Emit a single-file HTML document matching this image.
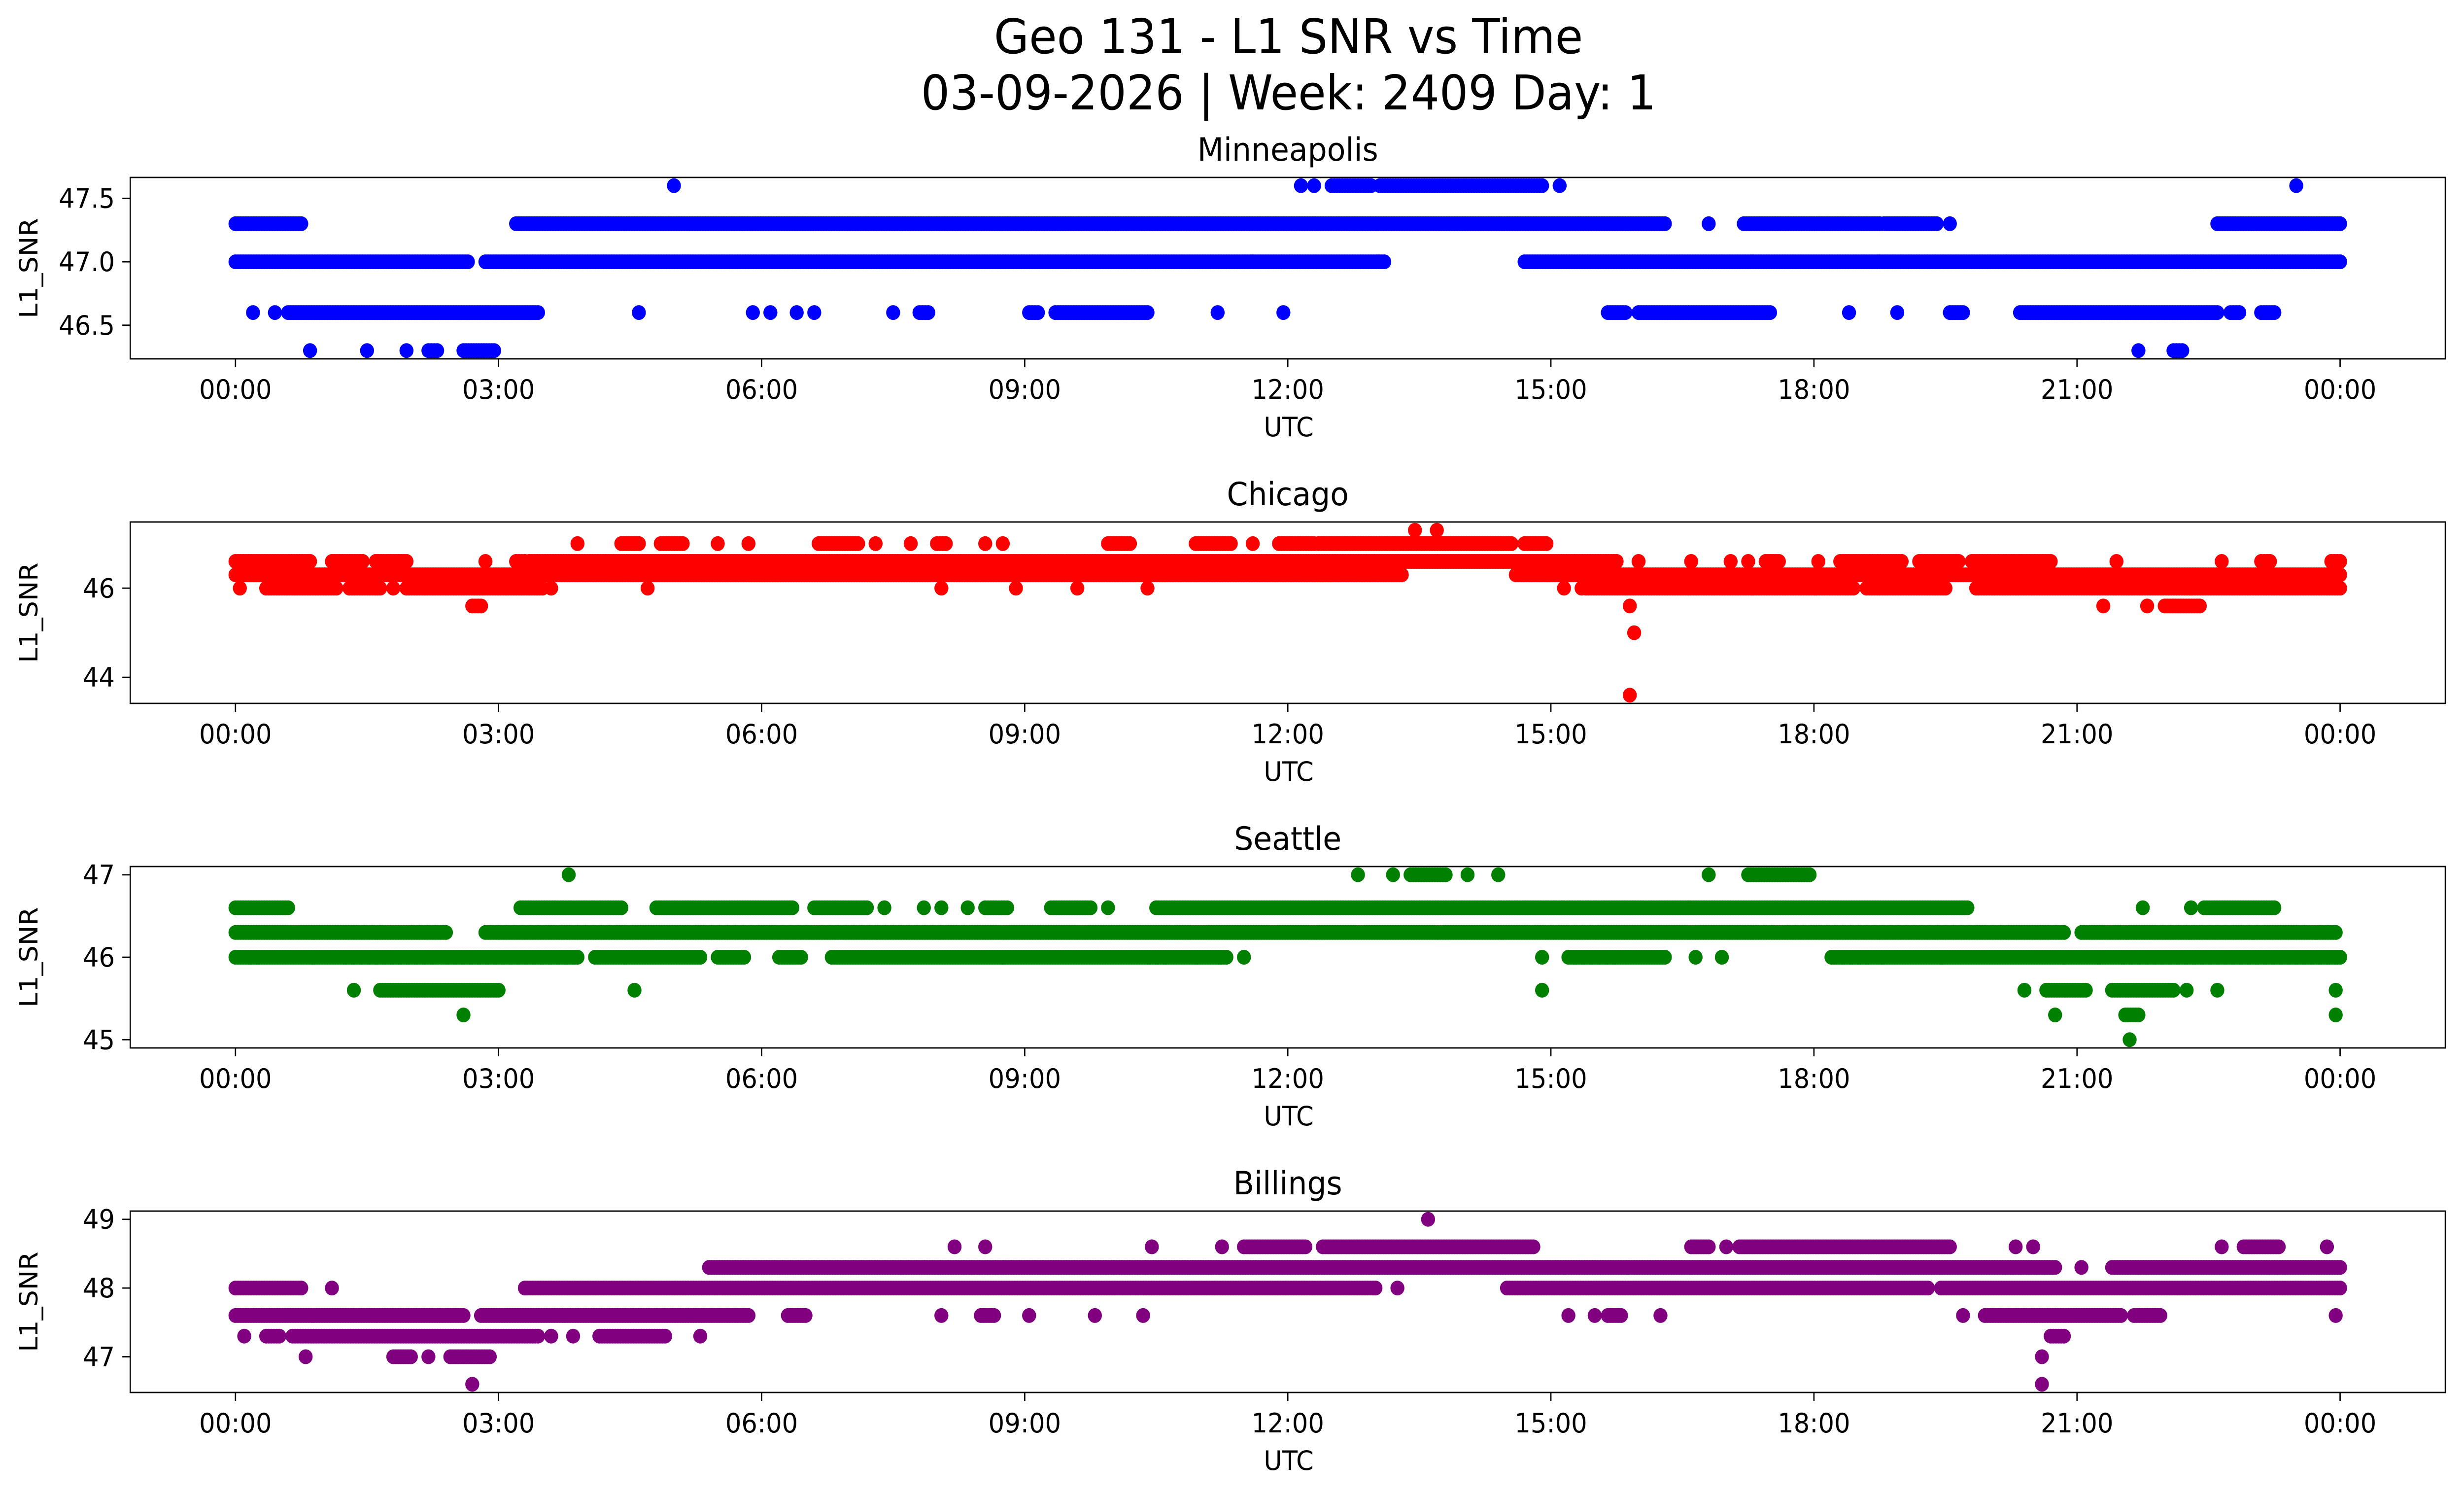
<!DOCTYPE html>
<html><head><meta charset="utf-8"><title>Geo 131 - L1 SNR vs Time</title>
<style>
html,body{margin:0;padding:0;background:#fff;width:100%;height:100%;overflow:hidden;}
svg{display:block;width:100vw;height:100vh;font-family:"DejaVu Sans","Liberation Sans",sans-serif;}
</style></head>
<body>
<svg id="fig" xmlns="http://www.w3.org/2000/svg" viewBox="0 0 5278 3033" preserveAspectRatio="none">
<rect x="0" y="0" width="5278" height="3033" fill="#fff"/>
<text x="2760" y="108" font-size="97" text-anchor="middle">Geo 131 - L1 SNR vs Time</text>
<text x="2760" y="222" font-size="97" text-anchor="middle">03-09-2026 | Week: 2409 Day: 1</text>
<g id="plots"></g>
</svg>
<script>
const cities = ["Minneapolis","Chicago","Seattle","Billings"];
const xTickHours = [0,3,6,9,12,15,18,21,24];
const xTickLabels = ["00:00","03:00","06:00","09:00","12:00","15:00","18:00","21:00","00:00"];
const yTicksMinneapolis = [46.5,47.0,47.5];
const yTickLabelsMinneapolis = ["46.5","47.0","47.5"];
const yTicksChicago = [44,46];
const yTickLabelsChicago = ["44","46"];
const yTicksSeattle = [45,46,47];
const yTickLabelsSeattle = ["45","46","47"];
const yTicksBillings = [47,48,49];
const yTickLabelsBillings = ["47","48","49"];

// runs: [SNR level, start hour, end hour]
const runsMinneapolis = [
[47.6,5.0,5.0],[47.6,12.15,12.15],[47.6,12.3,12.3],[47.6,12.5,12.95],[47.6,13.05,14.9],[47.6,15.1,15.1],[47.6,23.5,23.5],
[47.3,0.0,0.75],[47.3,3.2,16.3],[47.3,16.8,16.8],[47.3,17.2,18.75],[47.3,18.8,19.4],[47.3,19.55,19.55],[47.3,22.6,24.0],
[47.0,0.0,2.65],[47.0,2.85,13.1],[47.0,14.7,24.0],
[46.6,0.2,0.2],[46.6,0.45,0.45],[46.6,0.6,3.45],[46.6,4.6,4.6],[46.6,5.9,5.9],[46.6,6.1,6.1],[46.6,6.4,6.4],[46.6,6.6,6.6],[46.6,7.5,7.5],[46.6,7.8,7.9],[46.6,9.05,9.15],[46.6,9.35,10.4],[46.6,11.2,11.2],[46.6,11.95,11.95],[46.6,15.65,15.85],[46.6,16.0,17.5],[46.6,18.4,18.4],[46.6,18.95,18.95],[46.6,19.55,19.7],[46.6,20.35,22.6],[46.6,22.75,22.85],[46.6,23.1,23.25],
[46.3,0.85,0.85],[46.3,1.5,1.5],[46.3,1.95,1.95],[46.3,2.2,2.3],[46.3,2.6,2.95],[46.3,21.7,21.7],[46.3,22.1,22.2]
];
const runsChicago = [
[47.3,13.45,13.45],[47.3,13.7,13.7],
[47.0,3.9,3.9],[47.0,4.4,4.6],[47.0,4.85,5.1],[47.0,5.5,5.5],[47.0,5.85,5.85],[47.0,6.65,7.1],[47.0,7.3,7.3],[47.0,7.7,7.7],[47.0,8.0,8.1],[47.0,8.55,8.55],[47.0,8.75,8.75],[47.0,9.95,10.2],[47.0,10.95,11.35],[47.0,11.6,11.6],[47.0,11.9,12.3],[47.0,12.35,14.55],[47.0,14.7,14.95],
[46.6,0.0,0.85],[46.6,1.1,1.45],[46.6,1.6,1.95],[46.6,2.85,2.85],[46.6,3.2,3.3],[46.6,3.35,15.75],[46.6,16.0,16.0],[46.6,16.6,16.6],[46.6,17.05,17.05],[46.6,17.25,17.25],[46.6,17.45,17.6],[46.6,18.05,18.05],[46.6,18.3,19.0],[46.6,19.2,19.65],[46.6,19.8,20.7],[46.6,21.45,21.45],[46.6,22.65,22.65],[46.6,23.1,23.2],[46.6,23.9,24.0],
[46.3,0.0,13.3],[46.3,14.6,24.0],
[46.0,0.05,0.05],[46.0,0.35,1.15],[46.0,1.3,1.65],[46.0,1.8,1.8],[46.0,1.95,3.5],[46.0,3.6,3.6],[46.0,4.7,4.7],[46.0,8.05,8.05],[46.0,8.9,8.9],[46.0,9.6,9.6],[46.0,10.4,10.4],[46.0,15.15,15.15],[46.0,15.35,15.35],[46.0,15.4,18.45],[46.0,18.6,19.5],[46.0,19.85,24.0],
[45.6,2.7,2.8],[45.6,15.9,15.9],[45.6,21.3,21.3],[45.6,21.8,21.8],[45.6,22.0,22.4],
[45.0,15.95,15.95],[43.6,15.9,15.9]
];
const runsSeattle = [
[47.0,3.8,3.8],[47.0,12.8,12.8],[47.0,13.2,13.2],[47.0,13.4,13.8],[47.0,14.05,14.05],[47.0,14.4,14.4],[47.0,16.8,16.8],[47.0,17.25,17.95],
[46.6,0.0,0.6],[46.6,3.25,4.4],[46.6,4.8,6.35],[46.6,6.6,7.2],[46.6,7.4,7.4],[46.6,7.85,7.85],[46.6,8.05,8.05],[46.6,8.35,8.35],[46.6,8.55,8.8],[46.6,9.3,9.75],[46.6,9.95,9.95],[46.6,10.5,19.75],[46.6,21.75,21.75],[46.6,22.3,22.3],[46.6,22.45,23.25],
[46.3,0.0,2.4],[46.3,2.85,20.85],[46.3,21.05,23.95],
[46.0,0.0,3.9],[46.0,4.1,5.3],[46.0,5.5,5.8],[46.0,6.2,6.45],[46.0,6.8,11.3],[46.0,11.5,11.5],[46.0,14.9,14.9],[46.0,15.2,16.3],[46.0,16.65,16.65],[46.0,16.95,16.95],[46.0,18.2,24.0],
[45.6,1.35,1.35],[45.6,1.65,3.0],[45.6,4.55,4.55],[45.6,14.9,14.9],[45.6,20.4,20.4],[45.6,20.65,21.1],[45.6,21.4,22.1],[45.6,22.25,22.25],[45.6,22.6,22.6],[45.6,23.95,23.95],
[45.3,2.6,2.6],[45.3,20.75,20.75],[45.3,21.55,21.7],[45.3,23.95,23.95],
[45.0,21.6,21.6]
];
const runsBillings = [
[49.0,13.6,13.6],
[48.6,8.2,8.2],[48.6,8.55,8.55],[48.6,10.45,10.45],[48.6,11.25,11.25],[48.6,11.5,12.2],[48.6,12.4,14.8],[48.6,16.6,16.8],[48.6,17.0,17.0],[48.6,17.15,19.55],[48.6,20.3,20.3],[48.6,20.5,20.5],[48.6,22.65,22.65],[48.6,22.9,23.3],[48.6,23.85,23.85],
[48.3,5.4,20.75],[48.3,21.05,21.05],[48.3,21.4,24.0],
[48.0,0.0,0.75],[48.0,1.1,1.1],[48.0,3.3,13.0],[48.0,13.25,13.25],[48.0,14.5,19.3],[48.0,19.45,24.0],
[47.6,0.0,2.6],[47.6,2.8,5.85],[47.6,6.3,6.5],[47.6,8.05,8.05],[47.6,8.5,8.65],[47.6,9.05,9.05],[47.6,9.8,9.8],[47.6,10.35,10.35],[47.6,15.2,15.2],[47.6,15.5,15.5],[47.6,15.65,15.8],[47.6,16.25,16.25],[47.6,19.7,19.7],[47.6,19.95,21.5],[47.6,21.65,21.95],[47.6,23.95,23.95],
[47.3,0.1,0.1],[47.3,0.35,0.5],[47.3,0.65,3.45],[47.3,3.6,3.6],[47.3,3.85,3.85],[47.3,4.15,4.9],[47.3,5.3,5.3],[47.3,20.7,20.85],
[47.0,0.8,0.8],[47.0,1.8,2.0],[47.0,2.2,2.2],[47.0,2.45,2.9],[47.0,20.6,20.6],
[46.6,2.7,2.7],[46.6,20.6,20.6]
];

const allRuns = [runsMinneapolis, runsChicago, runsSeattle, runsBillings];
const allYTicks = [yTicksMinneapolis, yTicksChicago, yTicksSeattle, yTicksBillings];
const allYTickLabels = [yTickLabelsMinneapolis, yTickLabelsChicago, yTickLabelsSeattle, yTickLabelsBillings];
const colors = ["#0000ff","#ff0000","#008000","#800080"];

const NS = "http://www.w3.org/2000/svg";
const L = 279, R = 5238, H = 368;
const tops = [360, 1059, 1758, 2457];
const xMin = -1.2, xMax = 25.2;
function xScale(t){ return L + (t - xMin) / (xMax - xMin) * (R - L); }
function mk(tag, attrs, parent){
  const e = document.createElementNS(NS, tag);
  for (const k in attrs) e.setAttribute(k, attrs[k]);
  parent.appendChild(e);
  return e;
}
const plots = document.getElementById("plots");

for (let p = 0; p < 4; p++) {
  const top = tops[p], bot = top + H;
  const runs = allRuns[p];
  let lo = Infinity, hi = -Infinity;
  runs.forEach(r => { lo = Math.min(lo, r[0]); hi = Math.max(hi, r[0]); });
  const m = (hi - lo) * 0.05; const yMin = lo - m, yMax = hi + m;
  const yScale = v => bot - (v - yMin) / (yMax - yMin) * H;

  const g = mk("g", {}, plots);
  
  

  const title = mk("text", {x: (L+R)/2, y: top - 34, "font-size": 65, "text-anchor": "middle"}, g);
  title.textContent = cities[p];
  
  

  const pts = mk("g", {fill: colors[p]}, g);
  
  
  runs.forEach(r => {
    const step = 0.03;
    const n = Math.max(0, Math.round((r[2] - r[1]) / step));
    for (let i = 0; i <= n; i++) {
      const t = n === 0 ? r[1] : r[1] + (r[2] - r[1]) * i / n;
      const c = mk("circle", {cx: xScale(t).toFixed(1), cy: yScale(r[0]).toFixed(1), r: 15}, pts);
      
      
    }
  });

  const frame = mk("rect", {x: L, y: top, width: R - L, height: H, fill: "none", stroke: "#000", "stroke-width": 2.8}, g);
  
  

  xTickHours.forEach((h, i) => {
    const x = xScale(h);
    const tk = mk("line", {x1: x, x2: x, y1: bot, y2: bot + 17, stroke: "#000", "stroke-width": 2.8}, g);
    
    
    const tl = mk("text", {x: x, y: bot + 81, "font-size": 54, "text-anchor": "middle"}, g);
    tl.textContent = xTickLabels[i];
    
    
  });
  const xl = mk("text", {x: (L+R)/2 + 2, y: bot + 157, "font-size": 54, "text-anchor": "middle"}, g);
  xl.textContent = "UTC";
  
  

  allYTicks[p].forEach((v, i) => {
    const y = yScale(v);
    const tk = mk("line", {x1: L - 17, x2: L, y1: y, y2: y, stroke: "#000", "stroke-width": 2.8}, g);
    
    
    const tl = mk("text", {x: L - 33, y: y + 19, "font-size": 54, "text-anchor": "end"}, g);
    tl.textContent = allYTickLabels[p][i];
    
    
  });
  const yl = mk("text", {x: 0, y: 0, "font-size": 54, "text-anchor": "middle", transform: "translate(80," + (top + H/2) + ") rotate(-90)"}, g);
  yl.textContent = "L1_SNR";
  
  
}
</script>
</body></html>
